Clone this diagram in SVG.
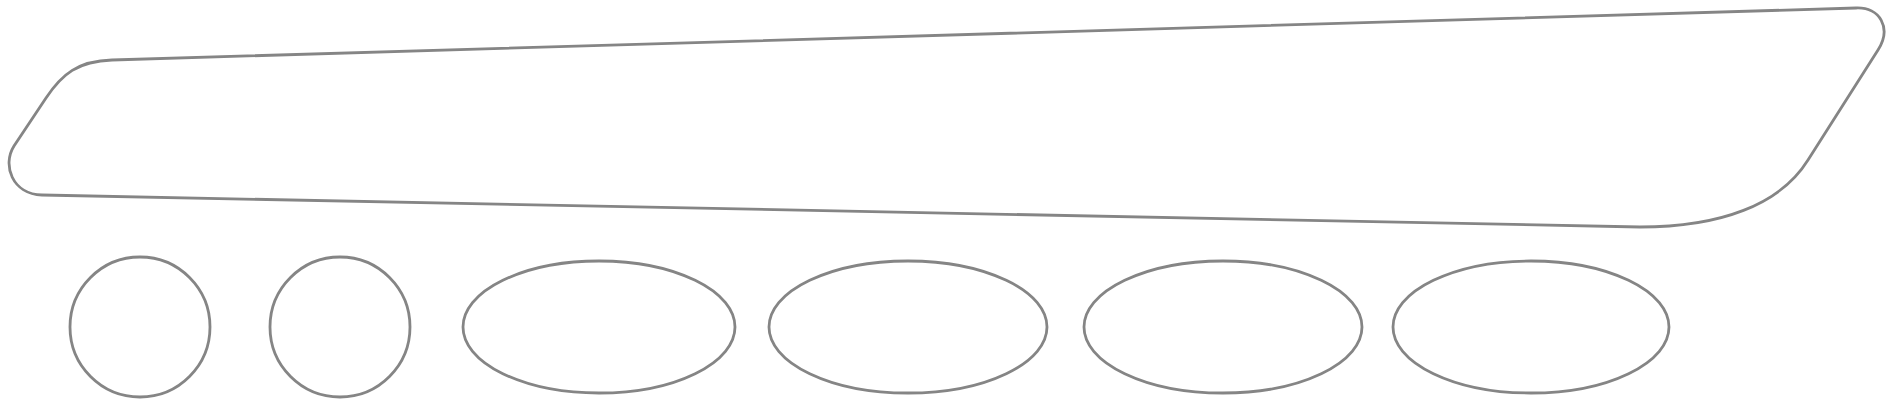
<svg xmlns="http://www.w3.org/2000/svg" width="1889" height="400" viewBox="0 0 1889 400">
<style>
.shape{fill:#ffffff;stroke:#858585;stroke-width:2.8}
</style>
<rect width="1889" height="400" fill="#ffffff"/>
<g id="band">
<path class="shape" d="M 112 60 L 1856 8 C 1880 7 1892 28 1878 50 L 1808 160 C 1780 205 1720 227 1640 227 L 42 195 C 12 194 2 165 14 146 L 46 98 C 62 74 78 61 112 60 Z"/>
</g>
<g id="circle1"><circle class="shape" cx="140" cy="327" r="70"/></g>
<g id="circle2"><circle class="shape" cx="340" cy="327" r="70"/></g>
<g id="ellipse1"><ellipse class="shape" cx="599" cy="327" rx="136" ry="66"/></g>
<g id="ellipse2"><ellipse class="shape" cx="908" cy="327" rx="139" ry="66"/></g>
<g id="ellipse3"><ellipse class="shape" cx="1223" cy="327" rx="139" ry="66"/></g>
<g id="ellipse4"><ellipse class="shape" cx="1531" cy="327" rx="138" ry="66"/></g>
<g id="connectors"/>
</svg>
